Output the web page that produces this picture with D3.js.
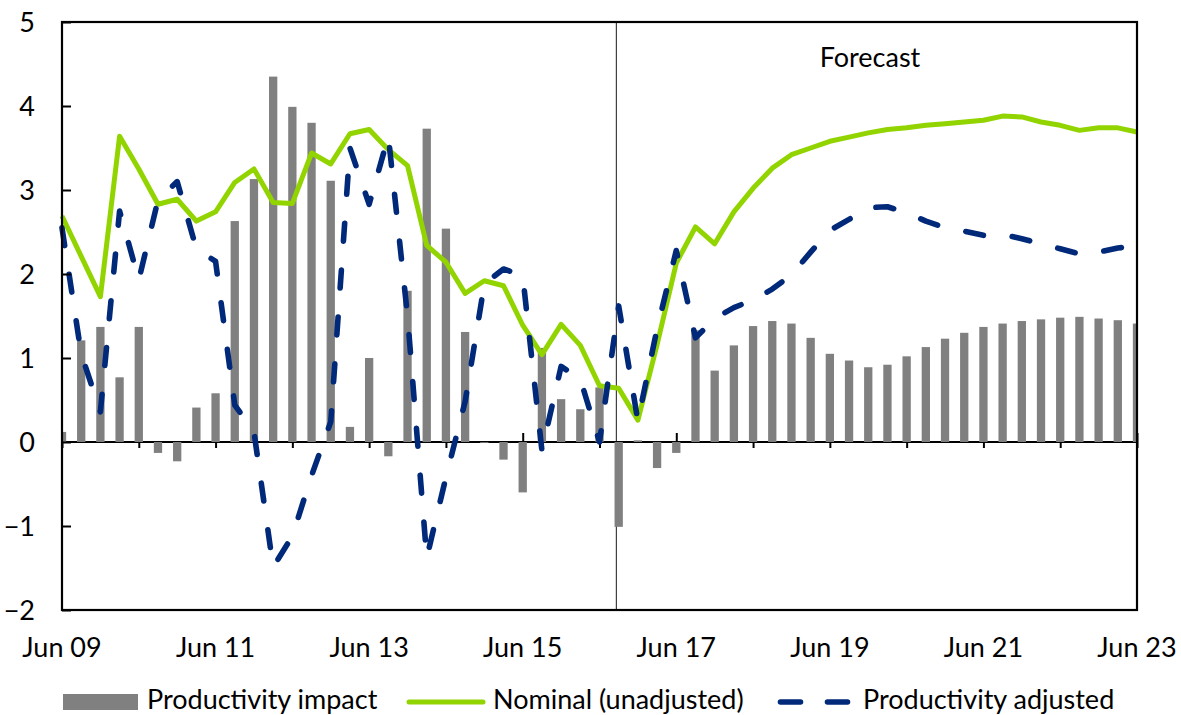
<!DOCTYPE html>
<html><head><meta charset="utf-8">
<script src="https://cdn.jsdelivr.net/npm/d3@7"></script>
<style>
body{margin:0;background:#fff}
svg{display:block}
text{font-family:Lato, "Open Sans", sans-serif; fill:#000}
</style>
</head><body>
<svg id="chart" width="1181" height="715"></svg>
<script>
// ---- data (quarterly, Jun 09 .. Jun 23) ----
const quarterLabels = d3.range(57).map(i => d3.timeFormat("%b %y")(d3.timeMonth.offset(new Date(2009, 5, 1), i * 3)));
const productivityImpact = [0.12,1.21,1.37,0.77,1.37,-0.13,-0.23,0.41,0.58,2.63,3.13,4.35,3.99,3.80,3.11,0.18,1.00,-0.17,1.80,3.73,2.54,1.31,-0.01,-0.21,-0.60,1.12,0.51,0.39,0.65,-1.01,0.02,-0.31,-0.13,1.33,0.85,1.15,1.38,1.44,1.41,1.24,1.05,0.97,0.89,0.92,1.02,1.13,1.23,1.30,1.37,1.41,1.44,1.46,1.48,1.49,1.47,1.45,1.41];
const nominalUnadjusted = [2.69,2.21,1.73,3.64,3.25,2.83,2.89,2.63,2.74,3.09,3.25,2.85,2.84,3.44,3.31,3.67,3.72,3.48,3.29,2.34,2.14,1.77,1.92,1.86,1.39,1.04,1.40,1.15,0.67,0.64,0.26,1.16,2.13,2.56,2.36,2.74,3.02,3.26,3.42,3.50,3.58,3.63,3.68,3.72,3.74,3.77,3.79,3.81,3.83,3.88,3.87,3.81,3.77,3.71,3.74,3.74,3.69];
const productivityAdjusted = [2.55,1.05,0.36,2.75,1.93,2.88,3.10,2.30,2.15,0.44,0.12,-1.49,-1.12,-0.40,0.24,3.50,2.83,3.64,1.50,-1.38,-0.42,0.48,1.88,2.06,1.98,-0.10,0.90,0.75,0.00,1.62,0.25,1.35,2.28,1.24,1.47,1.60,1.69,1.82,1.99,2.26,2.52,2.65,2.79,2.80,2.73,2.63,2.55,2.51,2.46,2.47,2.42,2.36,2.30,2.24,2.26,2.31,2.33];
const yTickValues = [-2,-1,0,1,2,3,4,5];
const xTickLabels = ["Jun 09","Jun 11","Jun 13","Jun 15","Jun 17","Jun 19","Jun 21","Jun 23"];
const seriesNames = ["Productivity impact","Nominal (unadjusted)","Productivity adjusted"];
const forecastLabel = "Forecast";
const forecastStartIndex = 28.88;

// ---- layout ----
const plot = {left: 62, right: 1137, top: 22, bottom: 610};
const colors = {bar: "#808080", nominal: "#92D400", adjusted: "#00297A"};
const FS = 27;

const svg = d3.select("#chart");
const x = d3.scaleLinear().domain([0, quarterLabels.length - 1]).range([plot.left, plot.right]);
const y = d3.scaleLinear().domain([-2, 5]).range([plot.bottom, plot.top]);

svg.append("defs").append("clipPath").attr("id", "clip")
  .append("rect").attr("x", plot.left).attr("y", plot.top)
  .attr("width", plot.right - plot.left).attr("height", plot.bottom - plot.top);

// forecast divider
svg.append("line")
  .attr("x1", x(forecastStartIndex)).attr("x2", x(forecastStartIndex))
  .attr("y1", plot.top).attr("y2", plot.bottom)
  .attr("stroke", "#404040").attr("stroke-width", 1.2);

svg.append("text").attr("x", 870).attr("y", 67).attr("text-anchor", "middle")
  .attr("font-size", FS).text(forecastLabel);

// x axis at zero with crossing ticks
const xAxis = d3.axisBottom(x).tickValues(d3.range(0, quarterLabels.length, 4)).tickSize(0).tickFormat("");
const xg = svg.append("g").attr("transform", `translate(0,${y(0)})`).call(xAxis);
xg.select(".domain").remove();
xg.selectAll(".tick").append("line").attr("y1", -9).attr("y2", 6).attr("stroke", "#000").attr("stroke-width", 2);
svg.append("line").attr("x1", plot.left).attr("x2", plot.right).attr("y1", y(0)).attr("y2", y(0))
  .attr("stroke", "#000").attr("stroke-width", 2);

// bars
const barW = 8.3;
svg.append("g").attr("clip-path", "url(#clip)")
  .selectAll("rect").data(productivityImpact).join("rect")
  .attr("x", (d, i) => x(i) - barW / 2)
  .attr("width", barW)
  .attr("y", d => y(Math.max(0, d)))
  .attr("height", d => Math.abs(y(d) - y(0)))
  .attr("fill", colors.bar);

// lines
const lineGen = d3.line().x((d, i) => x(i)).y(d => y(d));
svg.append("path").datum(nominalUnadjusted).attr("d", lineGen)
  .attr("fill", "none").attr("stroke", colors.nominal).attr("stroke-width", 5)
  .attr("stroke-linejoin", "round");
svg.append("path").datum(productivityAdjusted).attr("d", lineGen)
  .attr("fill", "none").attr("stroke", colors.adjusted).attr("stroke-width", 5.6)
  .attr("stroke-dasharray", "18,29").attr("stroke-linecap", "round").attr("stroke-linejoin", "round");

// frame
svg.append("rect").attr("x", plot.left).attr("y", plot.top)
  .attr("width", plot.right - plot.left).attr("height", plot.bottom - plot.top)
  .attr("fill", "none").attr("stroke", "#000").attr("stroke-width", 2.2);

// y axis
const yAxis = d3.axisLeft(y).tickValues(yTickValues).tickSize(0).tickFormat(d3.format("d"));
const yg = svg.append("g").attr("transform", `translate(${plot.left},0)`).call(yAxis);
yg.select(".domain").remove();
yg.selectAll(".tick text").attr("x", -27).attr("dy", "0.35em").attr("font-size", FS)
  .style("font-family", "Lato, sans-serif").attr("fill", "#000");
yg.selectAll(".tick").append("line").attr("x1", 0).attr("x2", 9).attr("stroke", "#000").attr("stroke-width", 2);

// x labels
const labelScale = d3.scalePoint().domain(xTickLabels).range([plot.left, plot.right]);
svg.append("g").selectAll("text").data(xTickLabels).join("text")
  .attr("x", d => labelScale(d)).attr("y", 657).attr("text-anchor", "middle")
  .attr("font-size", FS).text(d => d);

// legend
const lg = svg.append("g");
lg.append("rect").attr("x", 63).attr("y", 694).attr("width", 75).attr("height", 16).attr("fill", colors.bar);
lg.append("text").attr("x", 147).attr("y", 709).attr("font-size", FS).text(seriesNames[0]);
lg.append("line").attr("x1", 409).attr("x2", 483).attr("y1", 702).attr("y2", 702)
  .attr("stroke", colors.nominal).attr("stroke-width", 5).attr("stroke-linecap", "round");
lg.append("text").attr("x", 493).attr("y", 709).attr("font-size", FS).text(seriesNames[1]);
lg.append("line").attr("x1", 780.5).attr("x2", 848).attr("y1", 702).attr("y2", 702)
  .attr("stroke", colors.adjusted).attr("stroke-width", 5.6).attr("stroke-linecap", "round")
  .attr("stroke-dasharray", "20,27");
lg.append("text").attr("x", 863).attr("y", 709).attr("font-size", FS).text(seriesNames[2]);
</script>
</body></html>
